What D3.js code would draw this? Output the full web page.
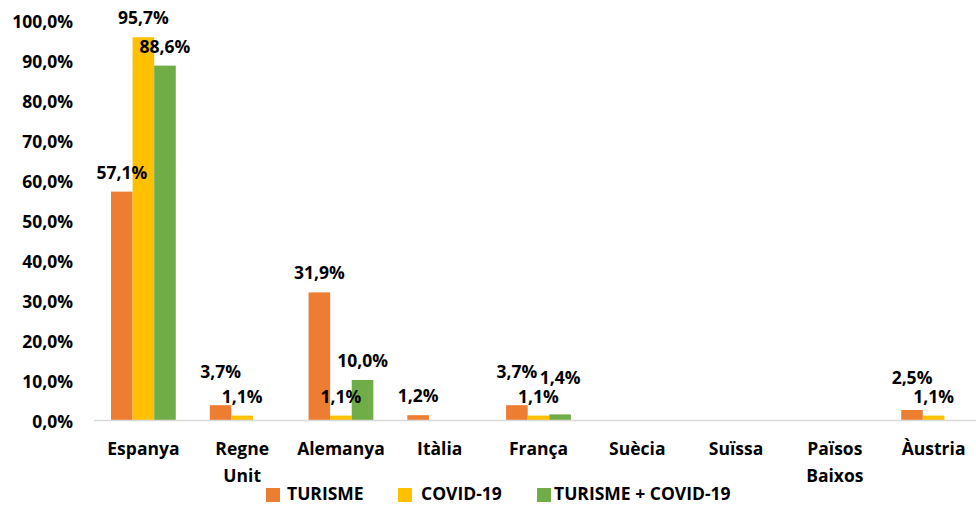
<!DOCTYPE html>
<html>
<head>
<meta charset="utf-8">
<title>Turisme i COVID-19</title>
<script src="https://d3js.org/d3.v7.min.js"></script>
<style>
  body { margin: 0; background: #fff; }
  text { font-family: "Open Sans", "Noto Sans", sans-serif; font-weight: 700; fill: #000; }
</style>
</head>
<body>
<svg id="chart"></svg>
<script>
// data (percent)
var categories = ["Espanya", "Regne Unit", "Alemanya", "Itàlia", "França", "Suècia", "Suïssa", "Països Baixos", "Àustria"];
var seriesNames = ["TURISME", "COVID-19", "TURISME + COVID-19"];
var turisme = [57.1, 3.7, 31.9, 1.2, 3.7, 0, 0, 0, 2.5];
var covid = [95.7, 1.1, 1.1, 0, 1.1, 0, 0, 0, 1.1];
var turismeCovid = [88.6, 0, 10.0, 0, 1.4, 0, 0, 0, 0];
var yTicks = [0, 10, 20, 30, 40, 50, 60, 70, 80, 90, 100];
var colors = ["#ED7D31", "#FFC000", "#70AD47"];

// some labels were moved up by hand in the original
var labelLift = { "Regne Unit|0": 14, "França|0": 14, "França|2": 17, "Àustria|0": 13 };

var W = 976, H = 506;
var fs = "17.5px";
var svg = d3.select("#chart").attr("width", W).attr("height", H);

var locale = d3.formatLocale({ decimal: ",", thousands: ".", grouping: [3], currency: ["", "€"] });
var fmt = locale.format(".1f");

var x0 = d3.scaleBand().domain(categories).range([94, 983]).padding(0);
var x1 = d3.scaleBand().domain(d3.range(3)).range([0, x0.bandwidth()]).paddingInner(0).paddingOuter(0.787);
var y = d3.scaleLinear().domain([0, 100]).range([420, 20]);

var seriesVals = [turisme, covid, turismeCovid];
var rows = [];
categories.forEach(function(c, i) {
  seriesVals.forEach(function(s, j) {
    rows.push({ cat: c, s: j, v: s[i] });
  });
});

// y axis labels
var yAxis = svg.append("g").attr("transform", "translate(73,0)")
  .call(d3.axisLeft(y).tickValues(yTicks).tickSize(0).tickPadding(0).tickFormat(function(d) { return fmt(d) + "%"; }));
yAxis.select(".domain").remove();
yAxis.selectAll("text").attr("dy", 7).style("font-size", fs).style("font-family", null).attr("fill", null);

// bars
svg.append("g").selectAll("rect")
  .data(rows.filter(function(d) { return d.v > 0; }))
  .enter().append("rect")
  .attr("x", function(d) { return x0(d.cat) + x1(d.s); })
  .attr("y", function(d) { return y(d.v); })
  .attr("width", x1.bandwidth())
  .attr("height", function(d) { return y(0) - y(d.v); })
  .attr("fill", function(d) { return colors[d.s]; });

// baseline
svg.append("line")
  .attr("x1", 94).attr("x2", W).attr("y1", y(0) + 0.5).attr("y2", y(0) + 0.5)
  .attr("stroke", "#d9d9d9").attr("stroke-width", 1.5);

// value labels
svg.append("g").selectAll("text")
  .data(rows.filter(function(d) { return d.v > 0; }))
  .enter().append("text")
  .attr("x", function(d) { return x0(d.cat) + x1(d.s) + x1.bandwidth() / 2; })
  .attr("y", function(d) { return y(d.v) - 13 - (labelLift[d.cat + "|" + d.s] || 0); })
  .attr("text-anchor", "middle")
  .style("font-size", fs)
  .text(function(d) { return fmt(d.v) + "%"; });

// category labels
var xAxis = svg.append("g").attr("transform", "translate(0,420)")
  .call(d3.axisBottom(x0).tickSize(0).tickFormat(""));
xAxis.select(".domain").remove();
xAxis.selectAll(".tick").each(function(c) {
  var t = d3.select(this).append("text")
    .attr("text-anchor", "middle")
    .style("font-size", fs);
  c.split(" ").forEach(function(w, i) {
    t.append("tspan").attr("x", 0).attr("y", 35 + i * 27).text(w);
  });
});

// legend
var legendX = [266, 398, 537];
var legendGap = [7, 9, 3];
var legend = svg.append("g").selectAll("g").data(seriesNames).enter().append("g")
  .attr("transform", function(d, i) { return "translate(" + legendX[i] + ",0)"; });
legend.append("rect").attr("x", 0).attr("y", 488).attr("width", 14).attr("height", 14)
  .attr("fill", function(d, i) { return colors[i]; });
legend.append("text").attr("x", function(d, i) { return 14 + legendGap[i]; }).attr("y", 500)
  .style("font-size", fs)
  .text(function(d) { return d; });
</script>
</body>
</html>
